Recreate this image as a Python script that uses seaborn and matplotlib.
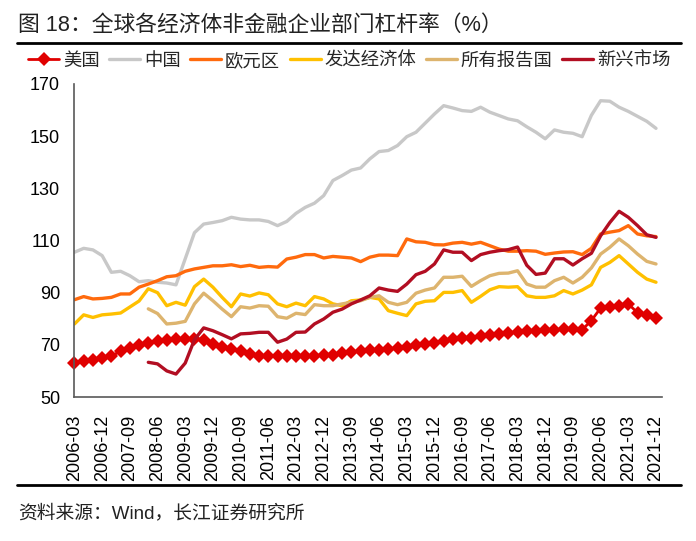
import numpy as np
import matplotlib
matplotlib.use("Agg")
import matplotlib.pyplot as plt
import seaborn as sns

# quarterly data, 2006-03 ... 2021-12 (64 quarters)
nan = np.nan
us = [63.2, 63.7, 64.2, 65.0, 65.8, 67.5, 68.7, 69.8, 70.8, 71.6, 71.9, 72.2, 72.1, 72.4,
      71.9, 70.3, 69.3, 68.3, 67.8, 66.5, 65.8, 65.7, 65.6, 65.6, 65.6, 65.7,
      65.8, 66.2, 66.2, 66.7, 67.4, 67.5, 68.0, 68.2, 68.4, 68.8, 69.3, 70.0, 70.5,
      70.8, 71.6, 72.1, 72.6, 72.6, 73.3, 73.9, 74.2, 74.7, 74.8, 75.4, 75.4,
      75.6, 75.8, 76.1, 76.1, 75.8, 79.3, 84.1, 84.6, 84.8, 85.7, 82.3, 81.4, 80.3]
china = [105.5, 107.0, 106.4, 104.2, 97.8, 98.2, 96.5, 94.2, 94.6, 94.0, 93.7, 93.0,
         103.0, 113.0, 116.3, 116.9, 117.6, 118.9, 118.2, 117.9, 117.9, 117.3, 115.7, 117.3, 120.4, 122.7,
         124.3, 127.2, 133.0, 134.9, 137.0, 137.8, 141.3, 144.1, 144.5, 146.4, 149.8, 151.5, 155.0,
         158.5, 161.7, 160.8, 159.8, 159.5, 161.1, 159.2, 157.9, 156.6, 155.9, 153.6, 151.5,
         149.0, 152.4, 151.5, 151.1, 149.8, 158.0, 163.6, 163.4, 161.1, 159.5, 157.6, 155.7, 153.0]
euro = [87.3, 88.5, 87.6, 87.8, 88.2, 89.5, 89.5, 92.1, 93.3, 94.6, 96.1, 96.5, 98.2,
        99.1, 99.7, 100.3, 100.3, 100.7, 100.0, 100.5, 99.7, 100.0, 99.8, 102.9, 103.6, 104.6,
        104.6, 103.3, 103.9, 103.6, 103.3, 101.9, 103.6, 104.4, 104.4, 104.2, 110.6, 109.5, 109.3,
        108.4, 108.3, 109.0, 109.3, 108.6, 109.3, 108.0, 106.7, 105.9, 105.9, 106.1, 105.9,
        104.7, 105.2, 105.6, 105.7, 104.6, 107.0, 112.5, 113.2, 113.8, 115.7, 112.5, 111.8, 111.5]
developed = [78.0, 81.5, 80.5, 81.5, 81.8, 82.2, 84.5, 86.8, 91.5, 90.0, 85.0, 86.3, 85.2,
             92.3, 95.2, 92.1, 88.2, 84.6, 89.5, 88.7, 89.9, 89.2, 85.7, 84.6, 86.0, 85.0,
             88.5, 87.6, 85.7, 85.0, 86.9, 87.2, 88.2, 87.6, 83.1, 82.1, 81.2, 85.7, 86.7,
             86.9, 90.1, 90.1, 90.8, 86.3, 88.6, 91.1, 92.3, 92.1, 92.3, 88.8, 88.2,
             88.2, 88.8, 90.8, 89.5, 91.0, 93.0, 99.7, 101.6, 104.2, 101.0, 97.8, 95.2, 94.0]
reporting = [nan] * 8 + [
    83.8, 82.0, 78.0, 78.3, 79.0,
    85.7, 89.8, 86.9, 83.7, 80.8, 84.6, 84.1, 85.0, 84.8, 80.8, 80.2, 82.1, 81.6,
    85.4, 85.0, 85.0, 85.7, 86.3, 86.9, 88.2, 88.8, 86.3, 85.4, 86.3, 89.8, 91.0,
    91.8, 95.9, 95.9, 96.3, 92.4, 94.6, 96.5, 97.4, 97.5, 98.4, 93.3, 92.1,
    92.1, 94.6, 95.9, 93.7, 95.9, 99.5, 104.8, 107.4, 110.6, 108.0, 104.8, 102.0, 101.0]
emerging = [nan] * 8 + [
    63.3, 62.7, 60.0, 58.8, 63.0,
    72.0, 76.5, 75.4, 73.9, 72.3, 74.2, 74.4, 74.8, 74.8, 71.0, 72.2, 74.8, 74.9,
    78.0, 79.9, 82.5, 83.7, 85.7, 87.2, 88.8, 91.8, 91.0, 90.5, 93.3, 96.9, 98.2,
    101.0, 106.4, 105.5, 105.5, 102.3, 104.6, 105.5, 106.1, 106.5, 107.5, 100.5, 97.0,
    97.5, 103.0, 103.0, 100.6, 103.0, 105.1, 111.8, 116.9, 121.2, 118.9, 115.7, 112.2, 111.2]

tick_labels = ["2006-03", "2006-12", "2007-09", "2008-06", "2009-03", "2009-12",
               "2010-09", "2011-06", "2012-03", "2012-12", "2013-09", "2014-06",
               "2015-03", "2015-12", "2016-09", "2017-06", "2018-03", "2018-12",
               "2019-09", "2020-06", "2021-03", "2021-12"]

series = [
    ("美国", us, "#E00000"),
    ("中国", china, "#C8C8C8"),
    ("欧元区", euro, "#FF6A0D"),
    ("发达经济体", developed, "#FFC000"),
    ("所有报告国", reporting, "#DDB46E"),
    ("新兴市场", emerging, "#B20E22"),
]

sns.set_theme(style="white")
plt.rcParams["font.family"] = ["Liberation Sans", "Noto Sans CJK SC"]

fig = plt.figure(figsize=(6.96, 5.41), dpi=100)
ax = fig.add_axes([74 / 696, 144 / 541, 588 / 696, 313 / 541])

x = np.arange(len(us))
for name, vals, col in series:
    if name == "美国":
        sns.lineplot(x=x, y=vals, color=col, lw=2, marker="D", markersize=7,
                     markeredgewidth=0, label=name, estimator=None, ax=ax, clip_on=False)
    else:
        sns.lineplot(x=x, y=vals, color=col, lw=2.4, label=name, estimator=None, ax=ax)

ax.set_xlim(-0.05, 63.65)
ax.set_ylim(50, 170)
ax.set_yticks(range(50, 171, 20))
ax.set_xticks(range(0, 64, 3))
ax.set_xticklabels(tick_labels, rotation=90)
ax.tick_params(axis="both", direction="in", length=4, width=1, color="#595959",
               labelsize=13, labelcolor="black")
ax.tick_params(axis="x", pad=13)
ax.tick_params(axis="y", pad=10)
for s in ["top", "right"]:
    ax.spines[s].set_visible(False)
for s in ["left", "bottom"]:
    ax.spines[s].set_color("#595959")
    ax.spines[s].set_linewidth(1.2)
ax.set_xlabel("")
ax.set_ylabel("")

handles, labels = ax.get_legend_handles_labels()
ax.get_legend().remove()
fig.legend(handles, labels, ncol=6, loc="center left", bbox_to_anchor=(28 / 696, 1 - 61 / 541),
           frameon=False, fontsize=13.2, handlelength=1.7, handletextpad=0.2,
           columnspacing=0.52, borderpad=0, borderaxespad=0)

fig.text(18 / 696, 1 - 25 / 541, "图 18：全球各经济体非金融企业部门杠杆率（%）",
         fontsize=15.7, va="center", ha="left", color="#222222")
fig.add_artist(plt.Line2D([17 / 696, 681 / 696], [1 - 43 / 541] * 2, color="black", lw=2,
                          transform=fig.transFigure))
fig.add_artist(plt.Line2D([17 / 696, 681 / 696], [1 - 485 / 541] * 2, color="black", lw=2,
                          transform=fig.transFigure))
fig.text(18 / 696, 1 - 513 / 541, "资料来源：Wind，长江证券研究所",
         fontsize=13.5, va="center", ha="left", color="#222222")

fig.savefig("out.png", dpi=100)
